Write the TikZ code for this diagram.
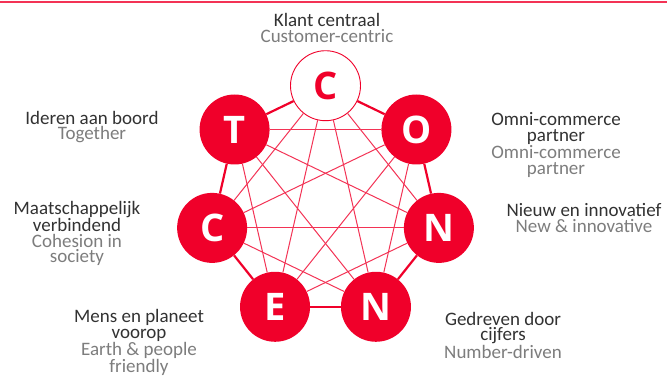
\documentclass[tikz,border=0pt]{standalone}
\usepackage{fontspec}
\setmainfont{Carlito}
\newfontfamily\letterfont{Open Sans}
\definecolor{cred}{RGB}{240,0,42}
\definecolor{dtxt}{RGB}{50,50,50}
\definecolor{ltxt}{RGB}{125,125,125}
\begin{document}
\begin{tikzpicture}[x=1pt,y=-1pt,
  vnode/.style={circle,minimum size=70pt,inner sep=0pt,fill=cred,text=white,
    font=\letterfont\bfseries\fontsize{38}{38}\selectfont},
  topnode/.style={vnode,fill=white,draw=cred,line width=0.9pt,text=cred},
  outer/.style={draw=cred,line width=2.2pt},
  inner/.style={draw=cred!80,line width=1pt},
  lbl/.style={align=center,inner sep=0pt,font=\fontsize{19}{15.5}\selectfont},
]
\useasboundingbox (0,0) rectangle (667,376);
\fill[white] (0,0) rectangle (667,376);
\coordinate (tl) at (0,2);
\coordinate (tr) at (667,2);
\draw[draw=cred!80,line width=1.6pt] (tl) -- (tr);
\def\cx{325.5}\def\cy{202}\def\R{116.3}
\node[topnode] (v0) at ({\cx+\R*cos(90)},{\cy-\R*sin(90)}) {C};
\node[vnode] (v1) at ({\cx+\R*cos(90-1*51.4286)},{\cy-\R*sin(90-1*51.4286)}) {O};
\node[vnode] (v2) at ({\cx+\R*cos(90-2*51.4286)},{\cy-\R*sin(90-2*51.4286)}) {N};
\node[vnode] (v3) at ({\cx+\R*cos(90-3*51.4286)},{\cy-\R*sin(90-3*51.4286)}) {N};
\node[vnode] (v4) at ({\cx+\R*cos(90-4*51.4286)},{\cy-\R*sin(90-4*51.4286)}) {E};
\node[vnode] (v5) at ({\cx+\R*cos(90-5*51.4286)},{\cy-\R*sin(90-5*51.4286)}) {C};
\node[vnode] (v6) at ({\cx+\R*cos(90-6*51.4286)},{\cy-\R*sin(90-6*51.4286)}) {T};
% outer ring
\foreach \a/\b in {0/1,1/2,2/3,3/4,4/5,5/6,6/0}
  \draw[outer] (v\a) -- (v\b);
% inner chords
\foreach \a/\b in {0/2,0/3,0/4,0/5,1/3,1/4,1/5,1/6,2/4,2/5,2/6,3/5,3/6,4/6}
  \draw[inner] (v\a) -- (v\b);
% labels
\node[lbl] (l0) at (327,28) {{\color{dtxt}Klant centraal}\\{\color{ltxt}Customer-centric}};
\node[lbl] (l1) at (556,145) {{\color{dtxt}Omni-commerce}\\{\color{dtxt}partner}\\{\color{ltxt}Omni-commerce}\\{\color{ltxt}partner}};
\node[lbl] (l2) at (584,218) {{\color{dtxt}Nieuw en innovatief}\\{\color{ltxt}New \& innovative}};
\node[lbl] (l3) at (503,335) {{\color{dtxt}Gedreven door}\\{\color{dtxt}cijfers}\\{\color{ltxt}Number-driven}};
\node[lbl] (l4) at (139,342.5) {{\color{dtxt}Mens en planeet}\\{\color{dtxt}voorop}\\{\color{ltxt}Earth \& people}\\{\color{ltxt}friendly}};
\node[lbl] (l5) at (77,233.5) {{\color{dtxt}Maatschappelijk}\\{\color{dtxt}verbindend}\\{\color{ltxt}Cohesion in}\\{\color{ltxt}society}};
\node[lbl] (l6) at (92,127) {{\color{dtxt}Ideren aan boord}\\{\color{ltxt}Together}};
\end{tikzpicture}
\end{document}
